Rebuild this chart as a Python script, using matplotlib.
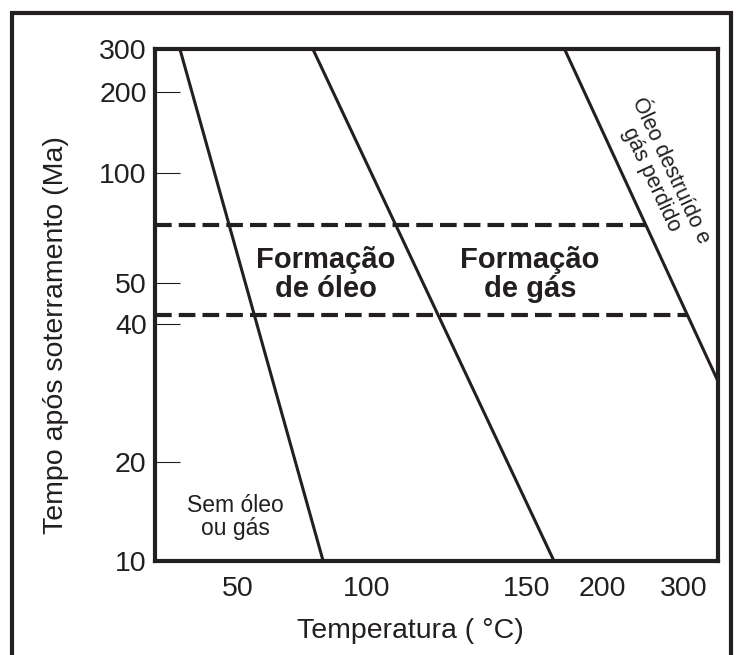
import numpy as np
import matplotlib
matplotlib.use("Agg")
import matplotlib.pyplot as plt
from matplotlib.lines import Line2D
from matplotlib.ticker import FixedLocator, NullLocator

plt.rcParams['font.family'] = ['Liberation Sans', 'DejaVu Sans']

INK = '#231f20'

# data
temp_ticks = [50, 100, 150, 200, 300]
time_ticks = [10, 20, 40, 50, 100, 200, 300]

# boundary lines: (temperature start, end), (time start, end)
line_oil_temp = [29, 83]
line_oil_time = [300, 10]
line_gas_temp = [79, 168]
line_gas_time = [300, 10]
line_dest_temp = [175, 350]
line_dest_time = [300, 30]

window_top = 72    # Ma, upper dashed line
window_bottom = 42  # Ma, lower dashed line

# the original axes are hand-drawn, not truly linear/log: piecewise scales
x_knots = np.array([20, 50, 100, 150, 200, 300, 350], dtype=float)
x_frac = np.array([0, 83, 212, 372, 447, 529, 563], dtype=float) / 563
y_knots = np.log10([10, 20, 40, 50, 100, 200, 300])
y_frac = np.array([0, 99, 237, 278, 388, 469, 512], dtype=float) / 512


def fx(t):
    return np.interp(t, x_knots, x_frac)


def fx_inv(p):
    return np.interp(p, x_frac, x_knots)


def fy(t):
    t = np.clip(np.asarray(t, dtype=float), 1e-6, None)
    return np.interp(np.log10(t), y_knots, y_frac)


def fy_inv(p):
    return 10 ** np.interp(p, y_frac, y_knots)


def cross_dest(time):
    # where the destruction line crosses a given time, in scale space
    p0, p1 = fx(line_dest_temp[0]), fx(line_dest_temp[1])
    q0, q1 = fy(line_dest_time[0]), fy(line_dest_time[1])
    q = fy(time)
    return float(fx_inv(p0 + (q - q0) / (q1 - q0) * (p1 - p0)))


fig = plt.figure(figsize=(7.36, 6.55), dpi=100)
ax = fig.add_axes([155 / 736, 1 - 561 / 655, 563 / 736, 512 / 655])
ax.set_xscale('function', functions=(fx, fx_inv))
ax.set_yscale('function', functions=(fy, fy_inv))
ax.set_xlim(20, 350)
ax.set_ylim(10, 300)

for tt, yy in [(line_oil_temp, line_oil_time),
               (line_gas_temp, line_gas_time),
               (line_dest_temp, line_dest_time)]:
    ax.plot(tt, yy, color=INK, lw=2.2, solid_capstyle='butt', clip_on=False)

for w in [window_top, window_bottom]:
    ax.plot([20, cross_dest(w)], [w, w], color=INK, lw=3,
            dashes=(4, 1.7), dash_capstyle='butt')

ax.xaxis.set_major_locator(FixedLocator(temp_ticks))
ax.xaxis.set_minor_locator(NullLocator())
ax.set_xticklabels([str(v) for v in temp_ticks])
ax.yaxis.set_major_locator(FixedLocator(time_ticks))
ax.yaxis.set_minor_locator(NullLocator())
ax.set_yticklabels([str(v) for v in time_ticks])

ax.tick_params(axis='x', length=0, pad=11, labelsize=20.5, labelcolor=INK)
ax.tick_params(axis='y', direction='in', length=18, width=0.8, color=INK,
               pad=6, labelsize=20.5, labelcolor=INK)
for s in ax.spines.values():
    s.set_linewidth(3)
    s.set_color(INK)

ax.set_xlabel('Temperatura ( °C)', fontsize=20.5, color=INK, va='center')
ax.xaxis.set_label_coords(0.453, -0.137)
ax.set_ylabel('Tempo após soterramento (Ma)', fontsize=20.5, color=INK,
              va='center')
ax.yaxis.set_label_coords(-0.176, 0.441)

ax.text(0.304, 0.559, 'Formação\nde óleo', transform=ax.transAxes,
        ha='center', va='center', fontsize=21, fontweight='bold',
        color=INK, linespacing=1.05)
ax.text(0.666, 0.559, 'Formação\nde gás', transform=ax.transAxes,
        ha='center', va='center', fontsize=21, fontweight='bold',
        color=INK, linespacing=1.05)
ax.text(0.142, 0.086, 'Sem óleo\nou gás', transform=ax.transAxes,
        ha='center', va='center', fontsize=16.5, color=INK, linespacing=1.0)
ax.text(0.899, 0.754, 'Óleo destruído e\ngás perdido', transform=ax.transAxes,
        ha='center', va='center', fontsize=15.5, color=INK, rotation=-65,
        rotation_mode='anchor', linespacing=1.0)

# outer frame running off the bottom of the picture
fx0, fx1 = 12 / 736, 731 / 736
fy1 = 1 - 13 / 655
fig.add_artist(Line2D([fx0, fx0, fx1, fx1], [-0.05, fy1, fy1, -0.05],
                      transform=fig.transFigure, color=INK, lw=3,
                      solid_joinstyle='miter'))

fig.savefig('out.png', dpi=100)
